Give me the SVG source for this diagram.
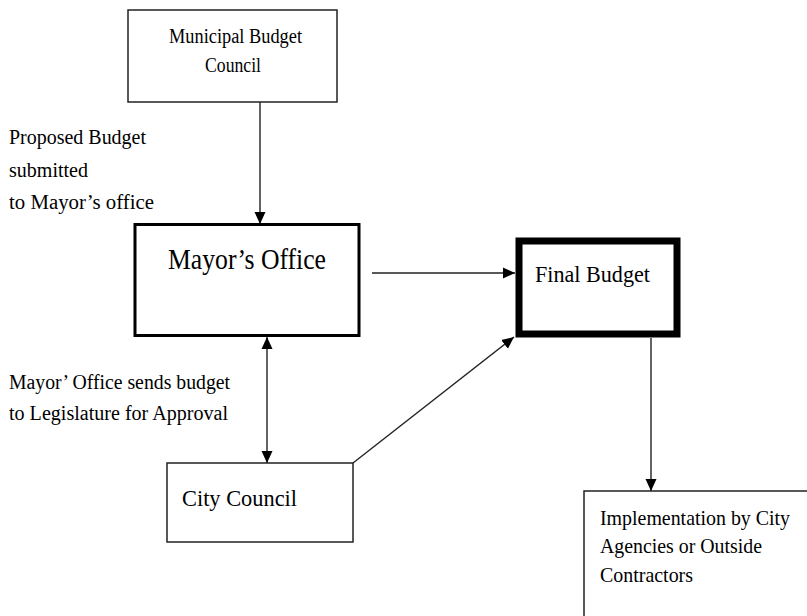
<svg xmlns="http://www.w3.org/2000/svg" width="807" height="616" viewBox="0 0 807 616">
<style>
  text { font-family: "Liberation Serif", "Times New Roman", serif; fill: #000; }
  .box { fill: #fff; stroke: #222; stroke-width: 1.5; }
  .conn { stroke: #222; stroke-width: 1.4; fill: none; }
</style>
<defs>
  <marker id="arr" markerUnits="userSpaceOnUse" markerWidth="13" markerHeight="12" refX="12" refY="6" orient="auto-start-reverse" viewBox="0 0 13 12">
    <path d="M0,0.5 L12,6 L0,11.5 z" fill="#000"/>
  </marker>
</defs>
<rect width="807" height="616" fill="#fff"/>

<g id="connectors">
  <line class="conn" x1="260" y1="102" x2="260" y2="224" marker-end="url(#arr)"/>
  <line class="conn" x1="372" y1="273" x2="515" y2="273" marker-end="url(#arr)"/>
  <line class="conn" x1="267" y1="337" x2="267" y2="463" marker-start="url(#arr)" marker-end="url(#arr)"/>
  <line class="conn" x1="353" y1="463" x2="514" y2="337" marker-end="url(#arr)"/>
  <line class="conn" x1="651" y1="338" x2="651" y2="491" marker-end="url(#arr)"/>
</g>

<g id="municipal-budget-council">
  <rect class="box" x="128" y="10" width="209" height="92"/>
  <text x="169" y="43" font-size="20" textLength="133" lengthAdjust="spacingAndGlyphs">Municipal Budget</text>
  <text x="205" y="72" font-size="20" textLength="56" lengthAdjust="spacingAndGlyphs">Council</text>
</g>

<g id="label-proposed">
  <text x="9" y="144" font-size="20" textLength="137" lengthAdjust="spacingAndGlyphs">Proposed Budget</text>
  <text x="9" y="177" font-size="20" textLength="79" lengthAdjust="spacingAndGlyphs">submitted</text>
  <text x="9" y="209" font-size="20" textLength="145" lengthAdjust="spacingAndGlyphs">to Mayor’s office</text>
</g>

<g id="mayors-office">
  <rect x="135" y="224.5" width="224" height="111" fill="#fff" stroke="#000" stroke-width="3"/>
  <text x="168" y="269" font-size="30" textLength="158" lengthAdjust="spacingAndGlyphs">Mayor’s Office</text>
</g>

<g id="final-budget">
  <rect x="519" y="241" width="158" height="93" fill="#fff" stroke="#000" stroke-width="7"/>
  <text x="535" y="282" font-size="23" textLength="115" lengthAdjust="spacingAndGlyphs">Final Budget</text>
</g>

<g id="label-sends">
  <text x="9" y="389" font-size="20" textLength="221" lengthAdjust="spacingAndGlyphs">Mayor’ Office sends budget</text>
  <text x="9" y="420" font-size="20" textLength="219" lengthAdjust="spacingAndGlyphs">to Legislature for Approval</text>
</g>

<g id="city-council">
  <rect class="box" x="167" y="463" width="186" height="79"/>
  <text x="182" y="506" font-size="24" textLength="115" lengthAdjust="spacingAndGlyphs">City Council</text>
</g>

<g id="implementation">
  <rect class="box" x="584" y="491" width="240" height="140"/>
  <text x="600" y="525" font-size="21" textLength="190" lengthAdjust="spacingAndGlyphs">Implementation by City</text>
  <text x="600" y="553" font-size="21" textLength="162" lengthAdjust="spacingAndGlyphs">Agencies or Outside</text>
  <text x="600" y="582" font-size="21" textLength="93" lengthAdjust="spacingAndGlyphs">Contractors</text>
</g>
</svg>
